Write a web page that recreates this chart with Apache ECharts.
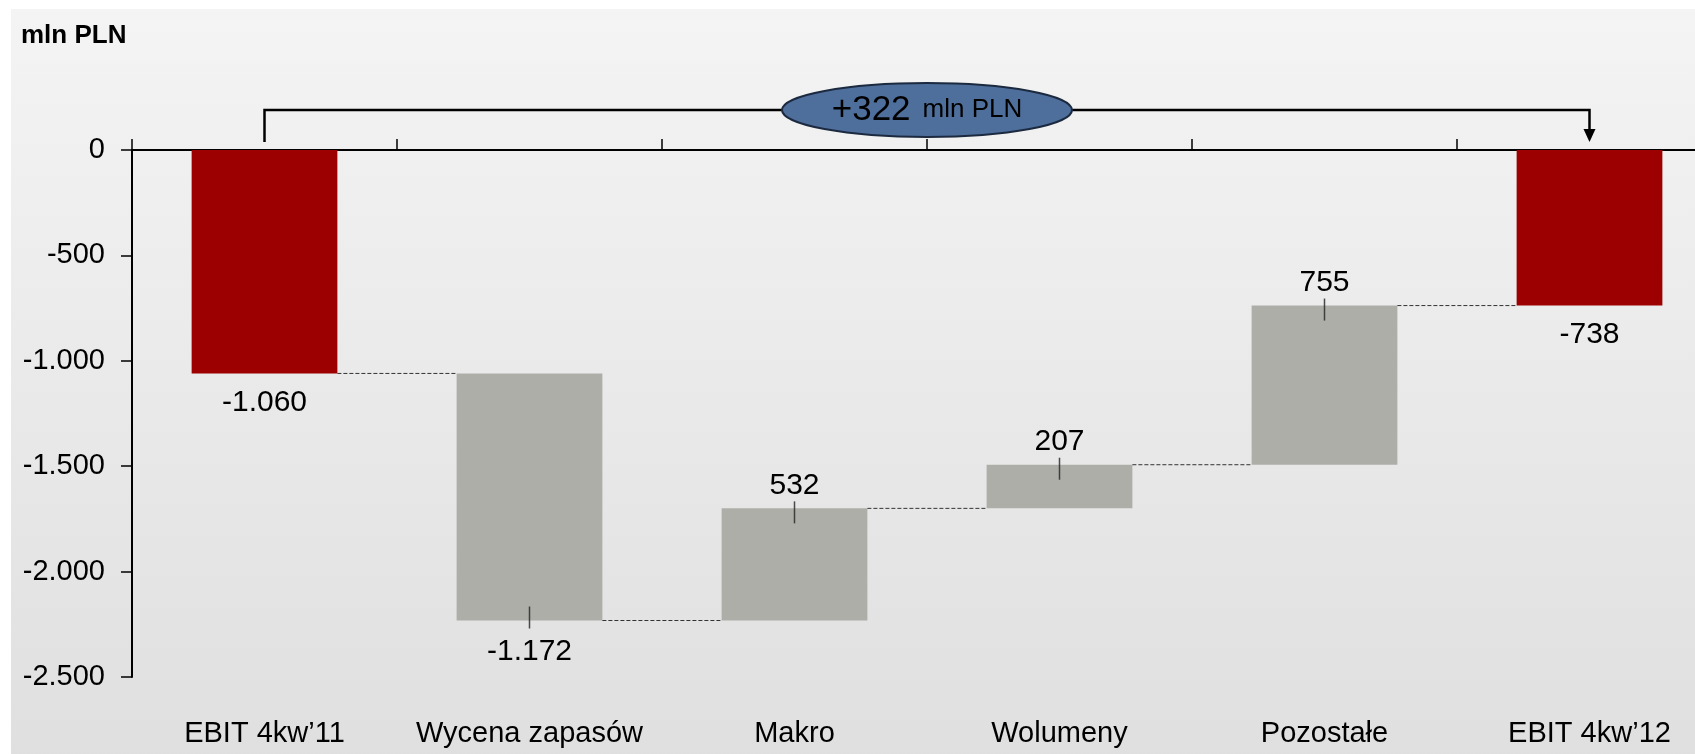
<!DOCTYPE html>
<html>
<head>
<meta charset="utf-8">
<title>EBIT 4kw'11 - 4kw'12</title>
<script src="https://cdn.jsdelivr.net/npm/echarts@6/dist/echarts.min.js"></script>
<style>
  html, body { margin: 0; padding: 0; background: #ffffff; }
  #chart { width: 1695px; height: 754px; }
</style>
</head>
<body>
<div id="chart"></div>
<script>
// dane wykresu (mln PLN)
var categories = ['EBIT 4kw\u201911', 'Wycena zapasów', 'Makro', 'Wolumeny', 'Pozostałe', 'EBIT 4kw\u201912'];
var values = [-1060, -1172, 532, 207, 755, -738];
var isTotal = [true, false, false, false, false, true];
var yTicks = [0, -500, -1000, -1500, -2000, -2500];

var FONT = "'Liberation Sans', Arial, sans-serif";
var RED = '#9c0000';
var GREY = '#aeaea9';

// format polski: kropka jako separator tysięcy
function fmt (v) {
  var s = String(Math.abs(v)).replace(/\B(?=(\d{3})+(?!\d))/g, '.');
  return (v < 0 ? '-' : '') + s;
}

// poziomy początku i końca każdego słupka
var starts = [], ends = [];
var level = 0;
values.forEach(function (v, i) {
  if (isTotal[i]) {
    starts.push(0);
    ends.push(v);
    level = v;
  } else {
    starts.push(level);
    level = level + v;
    ends.push(level);
  }
});

var helperData = [], barData = [], leaderData = [], connectorData = [];
values.forEach(function (v, i) {
  var hi = Math.max(starts[i], ends[i]);
  var lo = Math.min(starts[i], ends[i]);
  helperData.push(hi);
  var up = !isTotal[i] && v > 0;
  barData.push({
    value: lo - hi,
    itemStyle: { color: isTotal[i] ? RED : GREY },
    label: {
      position: up ? 'top' : 'bottom',
      distance: up ? 8 : (isTotal[i] ? 14 : 16)
    }
  });
  if (!isTotal[i]) {
    leaderData.push({ value: [i, ends[i]], symbolOffset: [0, v > 0 ? 4 : -3] });
  }
  if (i < values.length - 1) {
    connectorData.push([i, ends[i]]);
  }
});

var change = ends[ends.length - 1] - ends[0];

var chart = echarts.init(document.getElementById('chart'));
var option = {
  animation: false,
  textStyle: { fontFamily: FONT },
  graphic: [{
    type: 'rect',
    z: -10,
    shape: { x: 11, y: 9, width: 1695, height: 760 },
    style: {
      fill: new echarts.graphic.LinearGradient(0, 0, 0, 1, [
        { offset: 0, color: '#f4f4f4' },
        { offset: 1, color: '#dfdfdf' }
      ])
    }
  }],
  title: {
    text: 'mln PLN',
    left: 16,
    top: 18,
    textStyle: { fontFamily: FONT, fontSize: 26, fontWeight: 'bold', color: '#000' }
  },
  // oś X wychodzi poza prawą krawędź, jak w oryginale
  grid: { left: 132, top: 150, width: 1590, height: 527, containLabel: false, outerBoundsMode: 'none' },
  xAxis: [{
    type: 'category',
    position: 'top',
    data: categories,
    axisLine: { lineStyle: { color: '#000', width: 2 } },
    axisTick: { show: true, length: 11, lineStyle: { color: '#000', width: 1.5 } },
    axisLabel: { show: false },
    splitLine: { show: false }
  }, {
    type: 'category',
    position: 'bottom',
    data: categories,
    axisLine: { show: false },
    axisTick: { show: false },
    axisLabel: { interval: 0, margin: 42, fontSize: 29, color: '#000', fontFamily: FONT },
    splitLine: { show: false }
  }],
  yAxis: {
    type: 'value',
    min: yTicks[yTicks.length - 1],
    max: yTicks[0],
    interval: 500,
    axisLine: { show: true, lineStyle: { color: '#000', width: 2 } },
    axisTick: { show: true, length: 11, lineStyle: { color: '#000', width: 1.5 } },
    axisLabel: {
      margin: 27,
      fontSize: 29,
      color: '#000',
      fontFamily: FONT,
      formatter: function (v) { return fmt(v); }
    },
    splitLine: { show: false }
  },
  series: [{
    // niewidoczna podstawa słupków wodospadu
    type: 'bar',
    stack: 'wf',
    barWidth: '55%',
    silent: true,
    itemStyle: { color: 'transparent' },
    data: helperData
  }, {
    type: 'bar',
    stack: 'wf',
    barWidth: '55%',
    data: barData,
    label: {
      show: true,
      fontSize: 30,
      color: '#000',
      fontFamily: FONT,
      formatter: function (p) { return fmt(values[p.dataIndex]); }
    }
  }, {
    // krótkie kreski przy etykietach
    type: 'scatter',
    symbol: 'rect',
    symbolSize: [1.5, 22],
    itemStyle: { color: '#222' },
    silent: true,
    z: 5,
    data: leaderData
  }, {
    // przerywane linie łączące słupki
    type: 'custom',
    silent: true,
    z: 4,
    data: connectorData,
    renderItem: function (params, api) {
      var i = api.value(0);
      var lvl = api.value(1);
      var p0 = api.coord([i, lvl]);
      var p1 = api.coord([i + 1, lvl]);
      var half = api.size([1, 0])[0] * 0.55 / 2;
      return {
        type: 'line',
        shape: { x1: p0[0] + half, y1: p0[1], x2: p1[0] - half, y2: p1[1] },
        style: { stroke: '#333', lineWidth: 1, lineDash: [4, 2] }
      };
    }
  }, {
    // klamra ze zmianą EBIT
    type: 'custom',
    silent: true,
    clip: false,
    z: 10,
    data: [[0, values.length - 1]],
    renderItem: function (params, api) {
      var a = api.coord([api.value(0), 0]);
      var b = api.coord([api.value(1), 0]);
      var m = (api.coord([2, 0])[0] + api.coord([3, 0])[0]) / 2;
      var yTop = a[1] - 40;
      var yBot = a[1] - 8;
      return {
        type: 'group',
        children: [{
          type: 'polyline',
          shape: { points: [[a[0], yBot], [a[0], yTop], [b[0], yTop], [b[0], yBot - 12]] },
          style: { stroke: '#000', lineWidth: 2.5, fill: null }
        }, {
          type: 'polygon',
          shape: { points: [[b[0] - 6, yBot - 13], [b[0] + 6, yBot - 13], [b[0], yBot]] },
          style: { fill: '#000' }
        }, {
          type: 'ellipse',
          shape: { cx: m, cy: yTop, rx: 145, ry: 27 },
          style: { fill: '#4e6e9c', stroke: '#1c2a40', lineWidth: 2 }
        }, {
          type: 'text',
          x: m,
          y: yTop,
          style: {
            text: '{a|+' + change + '}{b|mln PLN}',
            align: 'center',
            verticalAlign: 'middle',
            rich: {
              a: { fontSize: 35, color: '#fff', fontFamily: FONT, padding: [0, 12, 0, 0] },
              b: { fontSize: 26, color: '#fff', fontFamily: FONT }
            }
          }
        }]
      };
    }
  }]
};
chart.setOption(option);
</script>
</body>
</html>
